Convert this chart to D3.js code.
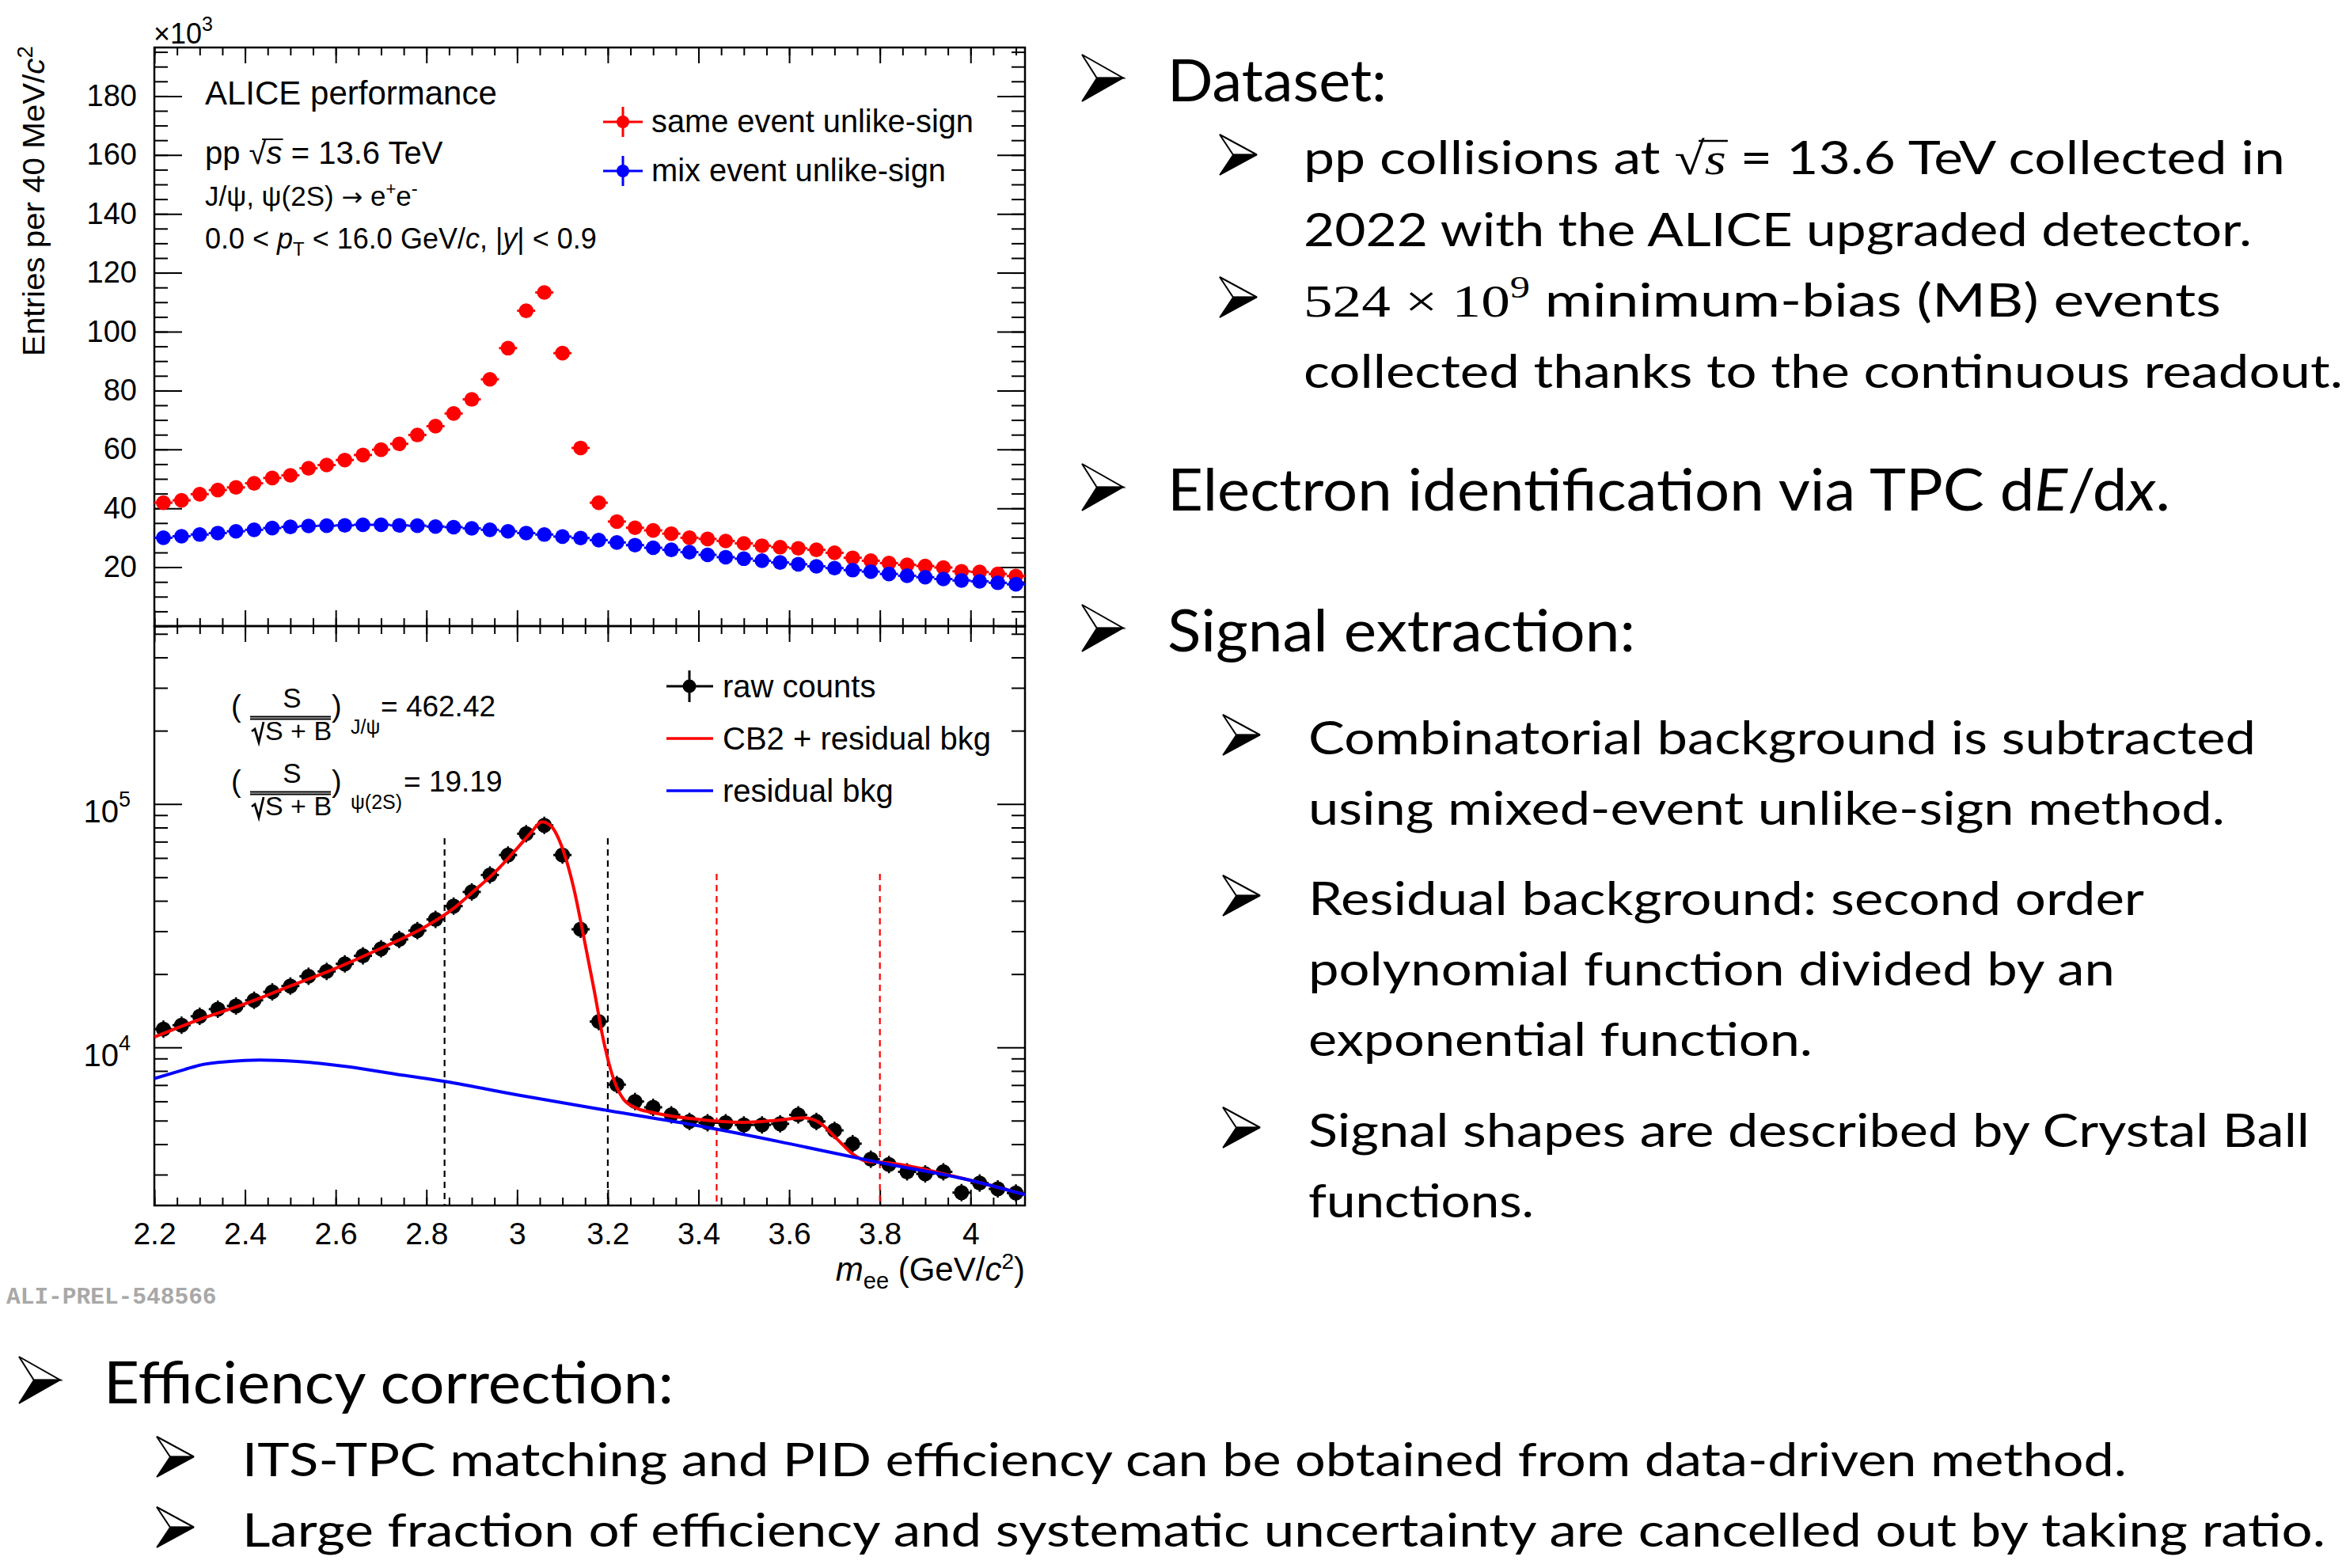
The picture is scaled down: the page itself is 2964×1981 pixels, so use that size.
<!DOCTYPE html>
<html>
<head>
<meta charset="utf-8">
<script src="https://cdn.jsdelivr.net/npm/d3@7"></script>
<style>
  body { margin: 0; background: #fff; }
</style>
</head>
<body>
<div id="chart"></div>
<script>
// ---- Data ----
// bin centres, GeV/c^2 (40 MeV bins)
const massBins = [2.22, 2.26, 2.30, 2.34, 2.38, 2.42, 2.46, 2.50, 2.54, 2.58, 2.62, 2.66,
  2.70, 2.74, 2.78, 2.82, 2.86, 2.90, 2.94, 2.98, 3.02, 3.06, 3.10, 3.14,
  3.18, 3.22, 3.26, 3.30, 3.34, 3.38, 3.42, 3.46, 3.50, 3.54, 3.58, 3.62,
  3.66, 3.70, 3.74, 3.78, 3.82, 3.86, 3.90, 3.94, 3.98, 4.02, 4.06, 4.10]

// top panel, entries x10^3
const sameEvent = [41.9, 42.7, 44.8, 46.2, 47.1, 48.5, 50.3, 51.2, 53.6, 54.7, 56.4, 58.1,
  59.9, 61.9, 64.9, 67.9, 72.2, 77.0, 83.8, 94.4, 107.1, 113.3, 92.7, 60.5,
  41.9, 35.5, 33.4, 32.5, 31.4, 30.0, 29.6, 28.9, 28.1, 27.3, 26.8, 26.4,
  25.9, 24.9, 23.2, 22.2, 21.4, 20.8, 20.4, 19.9, 18.6, 18.4, 17.7, 17.0]
const mixEvent = [30.0, 30.5, 31.1, 31.6, 32.2, 32.7, 33.3, 33.7, 34.0, 34.1, 34.2, 34.4,
  34.4, 34.2, 34.1, 33.8, 33.6, 33.2, 32.7, 32.2, 31.6, 31.1, 30.4, 29.9,
  29.2, 28.4, 27.5, 26.6, 25.9, 25.1, 24.2, 23.4, 22.9, 22.2, 21.6, 21.0,
  20.3, 19.7, 19.0, 18.5, 17.7, 17.1, 16.6, 16.0, 15.5, 15.2, 14.7, 14.2]

// bottom panel, raw counts after mixed-event subtraction
const rawCounts = [11880, 12330, 13420, 14350, 14790, 15610, 16900, 17860, 19590, 20510, 22030, 23770,
  25410, 27750, 30170, 33550, 38050, 43500, 51070, 61690, 75460, 81660, 61690, 30550,
  12760, 7030, 5990, 5670, 5280, 4960, 4900, 4900, 4800, 4800, 4850, 5280,
  4960, 4560, 4020, 3470, 3300, 3080, 3020, 3080, 2530, 2770, 2620, 2520]

// CB2 + residual bkg fit curve
const fitMass = [2.20, 2.30, 2.40, 2.50, 2.60, 2.70, 2.80, 2.86, 2.90, 2.95, 3.00, 3.03, 3.055,
  3.075, 3.10, 3.125, 3.147, 3.17, 3.19, 3.213, 3.235, 3.264, 3.30, 3.40, 3.50,
  3.566, 3.632, 3.67, 3.706, 3.743, 3.772, 3.805, 4.00, 4.12]
const fitCounts = [11020, 13030, 15100, 17870, 21130, 25540, 31500, 37240, 43150, 52150, 65700, 76000, 84500,
  81100, 65700, 45000, 28400, 17140, 10790, 7390, 6110, 5620, 5390, 5060, 4920,
  5000, 5130, 4860, 4190, 3610, 3400, 3370, 2840, 2480]

// residual background curve
const bkgMass = [2.20, 2.266, 2.30, 2.366, 2.432, 2.515, 2.628, 2.742, 2.843, 3.00, 3.20, 3.40, 3.60, 3.80, 4.00, 4.12]
const bkgCounts = [7450, 8100, 8450, 8750, 8860, 8750, 8320, 7710, 7230, 6380, 5500, 4760, 4020, 3360, 2840, 2480]

// signal windows (dashed lines): mass, top of line (counts)
const jpsiWindow = [2.84, 3.20]
const jpsiWindowTop = 72300
const psi2sWindow = [3.44, 3.80]
const psi2sWindowTop = 51600

const significanceJpsi = '462.42'
const significancePsi2S = '19.19'

// tick labels
const xTickLabels = [2.2, 2.4, 2.6, 2.8, 3, 3.2, 3.4, 3.6, 3.8, 4]
const yTopTickLabels = [20, 40, 60, 80, 100, 120, 140, 160, 180]
const yBotTickLabels = [1e4, 1e5]
const yBotMinor = [3000, 4000, 5000, 6000, 7000, 8000, 9000, 20000, 30000, 40000, 50000, 60000,
  70000, 80000, 90000, 200000, 300000, 400000, 500000]

// ---- Dimensions ----
const W = 2964, H = 1981
const frame = { left: 195, right: 1295, top: 60, mid: 791, bottom: 1523 }

const svg = d3.select('#chart').append('svg')
  .attr('width', W)
  .attr('height', H)
svg.append('rect').attr('width', W).attr('height', H).attr('fill', '#fff')

const plot = svg.append('g')
  .style('font-family', "'Liberation Sans', Arial, Helvetica, sans-serif")

// ---- Scales ----
const xScale = d3.scaleLinear().domain([2.2, 4.12]).range([frame.left, frame.right])
const yTop = d3.scaleLinear().domain([0, 196.5]).range([frame.mid, frame.top])
const yBot = d3.scaleLog().domain([2240, 538000]).range([frame.bottom, frame.mid])

// rich text: segments [string, {it, fs, dy, ff}]
function richText(parent, x, y, size, segs, anchor) {
  const t = parent.append('text')
    .attr('x', x).attr('y', y)
    .attr('font-size', size)
    .attr('fill', '#000')
  if (anchor) t.attr('text-anchor', anchor)
  let shift = 0
  segs.forEach(([str, st]) => {
    st = st || {}
    const target = st.dy || 0
    const s = t.append('tspan').text(str)
    if (target !== shift) s.attr('dy', target - shift)
    shift = target
    if (st.fs) s.attr('font-size', st.fs)
    if (st.it) s.attr('font-style', 'italic')
    if (st.ff) s.attr('font-family', st.ff)
  })
  return t
}

// ---- Ticks ----
function tickLayer(g, axis) {
  g.call(axis)
  g.select('.domain').remove()
  g.selectAll('text').remove()
  g.selectAll('line').attr('stroke', '#000').attr('stroke-width', 2)
}

const xMajor = xTickLabels
const xMinor = d3.range(0, 39).map(i => +(2.2 + i * 0.05).toFixed(2)).filter(v => v <= 4.12)

function xTicks(yPos, dir) {
  // dir = -1 ticks go up, +1 ticks go down
  const mk = (vals, len) => {
    const axis = dir < 0 ? d3.axisBottom(xScale) : d3.axisTop(xScale)
    tickLayer(plot.append('g').attr('transform', `translate(0,${yPos})`),
      axis.tickValues(vals).tickSize(-len))
  }
  mk(xMinor, 10)
  mk(xMajor, 20)
}
function yTicks(scale, major, minor) {
  tickLayer(plot.append('g').attr('transform', `translate(${frame.left},0)`),
    d3.axisLeft(scale).tickValues(minor).tickSize(-17))
  tickLayer(plot.append('g').attr('transform', `translate(${frame.left},0)`),
    d3.axisLeft(scale).tickValues(major).tickSize(-35))
  tickLayer(plot.append('g').attr('transform', `translate(${frame.right},0)`),
    d3.axisRight(scale).tickValues(minor).tickSize(-17))
  tickLayer(plot.append('g').attr('transform', `translate(${frame.right},0)`),
    d3.axisRight(scale).tickValues(major).tickSize(-35))
}

xTicks(frame.top, 1)
xTicks(frame.mid, -1)
xTicks(frame.mid, 1)
xTicks(frame.bottom, -1)
yTicks(yTop, [0].concat(yTopTickLabels), d3.range(0, 197, 5))
yTicks(yBot, yBotTickLabels, yBotMinor)

// frames
plot.append('rect')
  .attr('x', frame.left).attr('y', frame.top)
  .attr('width', frame.right - frame.left).attr('height', frame.mid - frame.top)
  .attr('fill', 'none').attr('stroke', '#000').attr('stroke-width', 2.5)
plot.append('rect')
  .attr('x', frame.left).attr('y', frame.mid)
  .attr('width', frame.right - frame.left).attr('height', frame.bottom - frame.mid)
  .attr('fill', 'none').attr('stroke', '#000').attr('stroke-width', 2.5)

// ---- Tick labels ----
const yTopAxis = plot.append('g')
  .attr('transform', `translate(${frame.left},0)`)
  .call(d3.axisLeft(yTop).tickValues(yTopTickLabels).tickSize(0).tickPadding(22))
yTopAxis.select('.domain').remove()
yTopAxis.selectAll('text').attr('font-size', 38).attr('font-family', null).attr('fill', '#000')

const xAxisGroup = plot.append('g')
  .attr('transform', `translate(0,${frame.bottom})`)
  .call(d3.axisBottom(xScale).tickValues(xTickLabels).tickSize(0).tickPadding(21)
    .tickFormat(d => String(d)))
xAxisGroup.select('.domain').remove()
xAxisGroup.selectAll('text').attr('font-size', 39).attr('font-family', null).attr('fill', '#000')

const yBotAxis = plot.append('g')
  .attr('transform', `translate(${frame.left},0)`)
  .call(d3.axisLeft(yBot).tickValues(yBotTickLabels).tickSize(0).tickPadding(30).tickFormat(() => ''))
yBotAxis.select('.domain').remove()
yBotAxis.selectAll('text')
  .attr('font-size', 40).attr('font-family', null).attr('fill', '#000').attr('dy', '0.58em')
  .each(function (d) {
    const t = d3.select(this)
    t.append('tspan').text('10')
    t.append('tspan').attr('font-size', 27).attr('dy', -20).text(Math.round(Math.log10(d)))
  })

// axis titles
plot.append('g').attr('transform', 'translate(56,58) rotate(-90)')
  .call(g => richText(g, 0, 0, 39, [
    ['Entries per 40 MeV/'], ['c', { it: true }], ['2', { fs: 27, dy: -15 }]
  ], 'end').attr('textLength', 392).attr('lengthAdjust', 'spacingAndGlyphs'))
richText(plot, 194, 55, 36, [['\u00d710'], ['3', { fs: 25, dy: -16 }]])
richText(plot, 1295, 1618, 42, [
  ['m', { it: true }], ['ee', { fs: 29, dy: 10 }], [' (GeV/'], ['c', { it: true }],
  ['2', { fs: 28, dy: -15 }], [')']
], 'end')

plot.append('text')
  .attr('x', 8).attr('y', 1647)
  .attr('font-family', "'Liberation Mono', 'DejaVu Sans Mono', monospace")
  .attr('font-weight', 'bold').attr('font-size', 29.5).attr('fill', '#a8a8a8')
  .text('ALI-PREL-548566')

// ---- Top panel markers ----
function markers(g, xs, ys, yScale, color, r) {
  const pts = g.append('g')
  pts.selectAll('line.eb')
    .data(xs)
    .join('line')
    .attr('class', 'eb')
    .attr('x1', d => xScale(d - 0.02))
    .attr('x2', d => xScale(d + 0.02))
    .attr('y1', (d, i) => yScale(ys[i]))
    .attr('y2', (d, i) => yScale(ys[i]))
    .attr('stroke', color).attr('stroke-width', 3)
  pts.selectAll('circle')
    .data(xs)
    .join('circle')
    .attr('cx', d => xScale(d))
    .attr('cy', (d, i) => yScale(ys[i]))
    .attr('r', r)
    .attr('fill', color)
}
markers(plot, massBins, sameEvent, yTop, '#ff0000', 9.3)
markers(plot, massBins, mixEvent, yTop, '#0000ff', 9.3)

// top panel texts
richText(plot, 259, 132, 42, [['ALICE performance']])
const ppText = richText(plot, 259, 207, 40, [['pp '], ['\u221a'], ['s', { it: true }], [' = 13.6 TeV']])
{
  const n = ppText.node()
  const x1 = n.getStartPositionOfChar(3).x + n.getExtentOfChar(3).width * 0.75
  const x2 = n.getEndPositionOfChar(4).x + 1
  plot.append('line').attr('x1', x1).attr('x2', x2).attr('y1', 207 - 31).attr('y2', 207 - 31)
    .attr('stroke', '#000').attr('stroke-width', 2)
}
richText(plot, 259, 260, 35, [
  ['J/\u03c8, \u03c8(2S) '], ['\u2192', { ff: "'DejaVu Sans', sans-serif", fs: 32 }], [' e'],
  ['+', { fs: 22, dy: -14 }], ['e', { dy: 0 }], ['-', { fs: 24, dy: -14 }]
])
richText(plot, 259, 314, 36, [
  ['0.0 < '], ['p', { it: true }], ['T', { fs: 24, dy: 9 }], [' < 16.0 GeV/'], ['c', { it: true }],
  [', |'], ['y', { it: true }], ['| < 0.9']
])

// top legend
const topLegend = [
  { label: 'same event unlike-sign', color: '#ff0000', y: 154, w: 407 },
  { label: 'mix event unlike-sign', color: '#0000ff', y: 216, w: 372 }
]
topLegend.forEach(e => {
  plot.append('line').attr('x1', 762).attr('x2', 812).attr('y1', e.y).attr('y2', e.y)
    .attr('stroke', e.color).attr('stroke-width', 3)
  plot.append('line').attr('x1', 787).attr('x2', 787).attr('y1', e.y - 19).attr('y2', e.y + 19)
    .attr('stroke', e.color).attr('stroke-width', 3)
  plot.append('circle').attr('cx', 787).attr('cy', e.y).attr('r', 8).attr('fill', e.color)
  plot.append('text').attr('x', 823).attr('y', e.y + 13).attr('font-size', 40)
    .attr('textLength', e.w)
    .attr('lengthAdjust', 'spacingAndGlyphs')
    .text(e.label)
})

// ---- Bottom panel ----
svg.append('clipPath').attr('id', 'botClip')
  .append('rect')
  .attr('x', frame.left).attr('y', frame.mid)
  .attr('width', frame.right - frame.left).attr('height', frame.bottom - frame.mid)

const bot = plot.append('g').attr('clip-path', 'url(#botClip)')

// window lines
function windowLines(xs, top, color) {
  bot.selectAll(null)
    .data(xs)
    .join('line')
    .attr('x1', d => xScale(d)).attr('x2', d => xScale(d))
    .attr('y1', yBot(top)).attr('y2', frame.bottom)
    .attr('stroke', color).attr('stroke-width', 2.2)
    .attr('stroke-dasharray', '8,6')
}
windowLines(jpsiWindow, jpsiWindowTop, '#000')
windowLines(psi2sWindow, psi2sWindowTop, '#ff0000')

markers(bot, massBins, rawCounts, yBot, '#000', 9.5)
bot.selectAll('line.vb')
  .data(massBins)
  .join('line')
  .attr('class', 'vb')
  .attr('x1', d => xScale(d)).attr('x2', d => xScale(d))
  .attr('y1', (d, i) => yBot(rawCounts[i]) - 11)
  .attr('y2', (d, i) => yBot(rawCounts[i]) + 11)
  .attr('stroke', '#000').attr('stroke-width', 2.5)

const fitLine = d3.line()
  .x((d, i) => xScale(d))
  .curve(d3.curveMonotoneX)

bot.append('path')
  .attr('d', fitLine.y((d, i) => yBot(fitCounts[i]))(fitMass))
  .attr('fill', 'none').attr('stroke', '#ff0000').attr('stroke-width', 4)
bot.append('path')
  .attr('d', fitLine.y((d, i) => yBot(bkgCounts[i]))(bkgMass))
  .attr('fill', 'none').attr('stroke', '#0000ff').attr('stroke-width', 4)

// bottom legend
plot.append('line').attr('x1', 842).attr('x2', 901).attr('y1', 867).attr('y2', 867)
  .attr('stroke', '#000').attr('stroke-width', 3)
plot.append('line').attr('x1', 871).attr('x2', 871).attr('y1', 847).attr('y2', 887)
  .attr('stroke', '#000').attr('stroke-width', 3)
plot.append('circle').attr('cx', 871).attr('cy', 867).attr('r', 8.5).attr('fill', '#000')
plot.append('text').attr('x', 913).attr('y', 881).attr('font-size', 40).text('raw counts')
const botLegend = [
  { label: 'CB2 + residual bkg', color: '#ff0000', y: 933 },
  { label: 'residual bkg', color: '#0000ff', y: 999 }
]
botLegend.forEach(e => {
  plot.append('line').attr('x1', 842).attr('x2', 901).attr('y1', e.y).attr('y2', e.y)
    .attr('stroke', e.color).attr('stroke-width', 3.5)
  plot.append('text').attr('x', 913).attr('y', e.y + 14).attr('font-size', 40).text(e.label)
})

// significance formulas
function significance(yBar, sub, value, valueX) {
  richText(plot, 292, yBar - 2, 38, [['(']])
  richText(plot, 369, yBar - 13, 35, [['S']], 'middle')
  plot.append('line').attr('x1', 316).attr('x2', 418).attr('y1', yBar - 1.5).attr('y2', yBar - 1.5)
    .attr('stroke', '#000').attr('stroke-width', 1.8)
  plot.append('line').attr('x1', 316).attr('x2', 418).attr('y1', yBar + 1.5).attr('y2', yBar + 1.5)
    .attr('stroke', '#000').attr('stroke-width', 1.8)
  plot.append('path')
    .attr('d', `M${318},${yBar + 17} L${322},${yBar + 14} L${327},${yBar + 31} L${333},${yBar + 5}`)
    .attr('fill', 'none').attr('stroke', '#000').attr('stroke-width', 2.8)
  richText(plot, 335, yBar + 28, 34, [['S + B']])
  richText(plot, 419, yBar - 2, 38, [[')']])
  richText(plot, 443, yBar + 20, 25, [[sub]])
  richText(plot, valueX, yBar - 2, 37, [['= ' + value]])
}
significance(907, 'J/\u03c8', significanceJpsi, 481)
significance(1002, '\u03c8(2S)', significancePsi2S, 510)

// ---- Slide text ----
const serif = "'Liberation Serif', serif"
const notes = [
  { lvl: 0, ax: 1367, x: 1475, y: 128, w: 277, segs: [['Dataset:']] },
  { lvl: 1, ax: 1541, x: 1647, y: 220, w: 1240, segs: [['pp collisions at '], ['\u221a', { ff: serif }], ['s', { it: true, ff: serif }], [' = 13.6 TeV collected in']], sqrt: 17 },
  { lvl: 1, x: 1647, y: 311, w: 1198, segs: [['2022 with the ALICE upgraded detector.']] },
  { lvl: 1, ax: 1541, x: 1647, y: 400, w: 1159, segs: [['524 \u00d7 10', { ff: serif }], ['9', { ff: serif, fs: 40, dy: -24 }], [' minimum-bias (MB) events']] },
  { lvl: 1, x: 1647, y: 490, w: 1313, segs: [['collected thanks to the continuous readout.']] },
  { lvl: 0, ax: 1367, x: 1475, y: 645, w: 1267, segs: [['Electron identification via TPC d'], ['E', { it: true }], ['/d'], ['x', { it: true }], ['.']] },
  { lvl: 0, ax: 1367, x: 1475, y: 823, w: 591, segs: [['Signal extraction:']] },
  { lvl: 1, ax: 1545, x: 1653, y: 953, w: 1197, segs: [['Combinatorial background is subtracted']] },
  { lvl: 1, x: 1653, y: 1042, w: 1158, segs: [['using mixed-event unlike-sign method.']] },
  { lvl: 1, ax: 1545, x: 1653, y: 1156, w: 1056, segs: [['Residual background: second order']] },
  { lvl: 1, x: 1653, y: 1245, w: 1019, segs: [['polynomial function divided by an']] },
  { lvl: 1, x: 1653, y: 1334, w: 637, segs: [['exponential function.']] },
  { lvl: 1, ax: 1545, x: 1653, y: 1449, w: 1265, segs: [['Signal shapes are described by Crystal Ball']] },
  { lvl: 1, x: 1653, y: 1538, w: 285, segs: [['functions.']] },
  { lvl: 0, ax: 24, x: 131, y: 1773, w: 720, segs: [['Efficiency correction:']] },
  { lvl: 1, ax: 198, x: 306, y: 1865, w: 2381, segs: [['ITS-TPC matching and PID efficiency can be obtained from data-driven method.']] },
  { lvl: 1, ax: 198, x: 306, y: 1954, w: 2632, segs: [['Large fraction of efficiency and systematic uncertainty are cancelled out by taking ratio.']] }
]

const slide = svg.append('g').style('font-family', "Lato, 'Open Sans', sans-serif")

function arrowBullet(g, x, yBase, w, h) {
  const y0 = yBase - h
  const nx = x + 0.36 * w, ny = y0 + h / 2
  g.append('path')
    .attr('d', `M${x},${y0} L${x + w},${ny} L${nx},${ny} Z`)
    .attr('fill', '#fff').attr('stroke', '#000').attr('stroke-width', 2).attr('stroke-linejoin', 'miter')
  g.append('path')
    .attr('d', `M${nx},${ny} L${x + w},${ny} L${x},${yBase} Z`)
    .attr('fill', '#000').attr('stroke', '#000').attr('stroke-width', 1.5)
}

notes.forEach(n => {
  const size = n.lvl === 0 ? 73 : 58
  const t = richText(slide, n.x, n.y, size, n.segs)
  t.attr('textLength', n.w).attr('lengthAdjust', 'spacingAndGlyphs')
  if (n.ax !== undefined) {
    if (n.lvl === 0) arrowBullet(slide, n.ax, n.y, 52, 59)
    else arrowBullet(slide, n.ax, n.y + 1, 47, 51)
  }
  if (n.sqrt !== undefined) {
    const node = t.node()
    const x1 = node.getStartPositionOfChar(n.sqrt).x + node.getExtentOfChar(n.sqrt).width * 0.8
    const x2 = node.getEndPositionOfChar(n.sqrt + 1).x + 2
    slide.append('line').attr('x1', x1).attr('x2', x2)
      .attr('y1', n.y - 42).attr('y2', n.y - 42)
      .attr('stroke', '#000').attr('stroke-width', 2.5)
  }
})
</script>
</body>
</html>
